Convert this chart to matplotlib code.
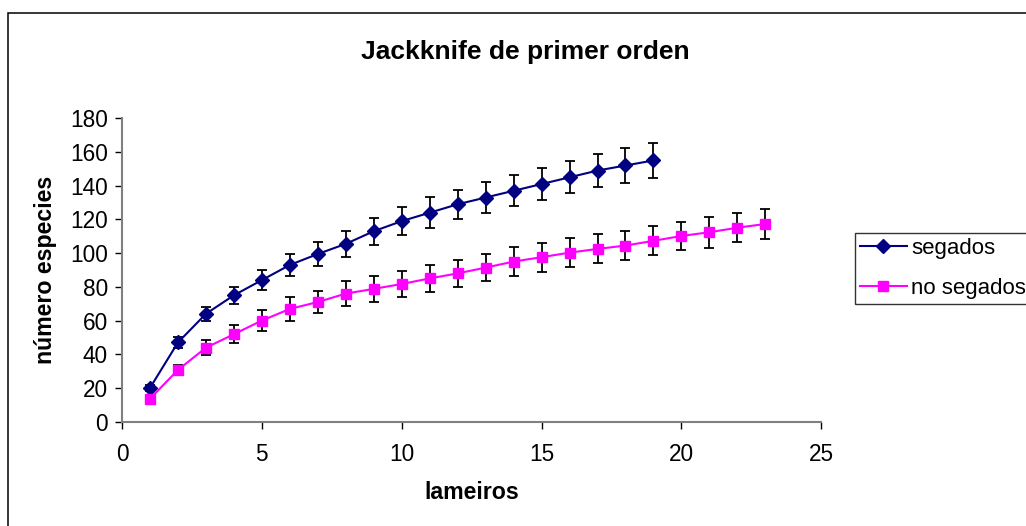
import matplotlib
matplotlib.use('Agg')
import matplotlib.pyplot as plt
from matplotlib.patches import Rectangle

# Data
lameiros_seg = list(range(1, 20))
segados = [20, 47, 64, 75, 84, 93, 99.5, 105.5, 113, 119, 124, 129, 133, 137,
           141, 145, 149, 152, 155]
segados_err = [1.5, 3.2, 4.2, 5.1, 6.1, 6.5, 7, 7.6, 7.9, 8.4, 9.1, 8.6, 9.1,
               9.1, 9.6, 9.5, 10, 10.5, 10.5]

lameiros_noseg = list(range(1, 24))
no_segados = [13.6, 30.7, 43.9, 51.9, 60, 66.9, 71, 76, 78.8, 81.7, 85, 88,
              91.4, 95, 97.6, 100.3, 102.5, 104.5, 107.3, 110.2, 112.4, 115.1,
              117.3]
no_segados_err = [1.5, 2.8, 4.6, 5.5, 6, 7, 6.5, 7.6, 7.5, 7.6, 8, 7.9, 8,
                  8.6, 8.6, 8.5, 8.6, 8.6, 8.6, 8.4, 9.1, 8.6, 9.1]

labels = ['segados', 'no segados']
xticks = [0, 5, 10, 15, 20, 25]
yticks = list(range(0, 181, 20))

plt.rcParams['font.family'] = ['Liberation Sans', 'DejaVu Sans']

W, H = 1026, 526
fig = plt.figure(figsize=(W / 100, H / 100), dpi=100)
ax = fig.add_axes([122 / W, 1 - 421.7 / H, 699.3 / W, 303.4 / H])

# outer chart border (runs off the right and bottom edges)
fig.patches.append(Rectangle((8 / W, -0.1), 1.2, 1 - 13 / H + 0.1,
                             transform=fig.transFigure, fill=False,
                             edgecolor='black', lw=1.1, clip_on=False))

ax.errorbar(lameiros_seg, segados, yerr=segados_err, fmt='none',
            ecolor='black', elinewidth=1.3, capsize=3.5, capthick=1.3, zorder=2)
ax.errorbar(lameiros_noseg, no_segados, yerr=no_segados_err, fmt='none',
            ecolor='black', elinewidth=1.3, capsize=3.5, capthick=1.3, zorder=2)
l1, = ax.plot(lameiros_seg, segados, color='#000080', lw=1.5, marker='D',
              ms=7.2, zorder=3)
l2, = ax.plot(lameiros_noseg, no_segados, color='#FF00FF', lw=1.5, marker='s',
              ms=6.8, zorder=3)

ax.set_xlim(0, 25)
ax.set_ylim(0, 180)
ax.set_xticks(xticks)
ax.set_yticks(yticks)
for s in ['top', 'right']:
    ax.spines[s].set_visible(False)
for s in ['left', 'bottom']:
    ax.spines[s].set_color('#808080')
    ax.spines[s].set_linewidth(1.5)
ax.tick_params(axis='both', direction='out', length=5, width=1,
               color='black', labelsize=16.3)
ax.tick_params(axis='y', pad=5)
ax.tick_params(axis='x', pad=10)

ax.set_xlabel('lameiros', fontsize=16.7, fontweight='bold', va='center')
ax.xaxis.set_label_coords(0.5, -0.2334)
ax.set_ylabel('número especies', fontsize=16.7, fontweight='bold', va='center')
ax.yaxis.set_label_coords(-0.1087, 0.5)

fig.text(525 / W, 1 - 51.7 / H, 'Jackknife de primer orden', fontsize=19,
         fontweight='bold', ha='center', va='center')

leg = fig.legend([l1, l2], labels, loc='upper left',
                 bbox_to_anchor=(855 / W, 1 - 233 / H), borderaxespad=0,
                 fontsize=16, frameon=True, fancybox=False, edgecolor='black',
                 handlelength=2.1, handletextpad=0.22, borderpad=0.22,
                 labelspacing=0.85)
leg.get_frame().set_linewidth(1.0)

fig.savefig('out.png', dpi=100)
